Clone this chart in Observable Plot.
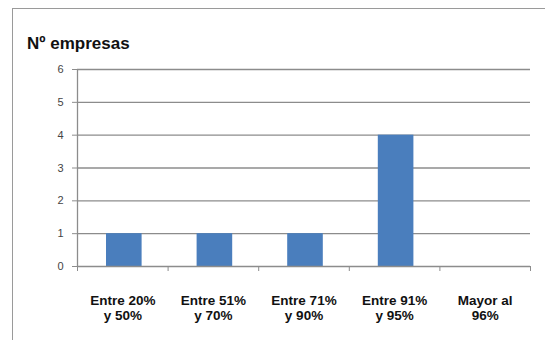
<!DOCTYPE html>
<html>
<head>
<meta charset="utf-8">
<script src="https://cdn.jsdelivr.net/npm/d3@7"></script>
<script src="https://cdn.jsdelivr.net/npm/@observablehq/plot@0.6"></script>
<style>
  html, body { margin: 0; padding: 0; background: #fff; }
  #wrap { position: relative; width: 545px; height: 340px; overflow: hidden; background: #fff; font-family: "Liberation Sans", Arial, sans-serif; }
  #border { position: absolute; left: 12px; top: 8px; width: 560px; height: 360px; border-left: 1.5px solid #9a9a9a; border-top: 1.5px solid #9a9a9a; box-sizing: border-box; z-index: 2; pointer-events: none; }
  #title { position: absolute; left: 27px; top: 35px; font-size: 17px; line-height: 17px; font-weight: bold; color: #111; white-space: nowrap; }
  #chart { position: absolute; left: 0; top: 55px; z-index: 1; }
</style>
</head>
<body>
<div id="wrap">
  <div id="border"></div>
  <div id="title">Nº empresas</div>
  <div id="chart"></div>
</div>
<script>
// Data
const categories = ["Entre 20%\ny 50%", "Entre 51%\ny 70%", "Entre 71%\ny 90%", "Entre 91%\ny 95%", "Mayor al\n96%"];
const values = [1, 1, 1, 4, 0];
const yTicks = [0, 1, 2, 3, 4, 5, 6];

const idx = d3.range(categories.length);
const data = idx.map(i => ({i, label: categories[i], value: values[i]}));
const gridColor = "#8c8c8c";

const chart = Plot.plot({
  width: 545,
  height: 285,
  marginLeft: 77,
  marginRight: 15,
  marginTop: 14,
  marginBottom: 74,
  style: {fontFamily: "'Liberation Sans', Arial, sans-serif", background: "transparent"},
  x: {domain: [0, categories.length], axis: null},
  y: {domain: [0, 6], axis: null},
  marks: [
    Plot.ruleY(yTicks.filter(d => d > 0), {stroke: gridColor, strokeWidth: 1.3}),
    Plot.rectY(data.filter(d => d.value > 0), {
      x1: d => d.i, x2: d => d.i + 1, y1: 0, y2: "value",
      fill: "#4a7ebd", insetLeft: 29, insetRight: 26
    }),
    Plot.ruleY([0], {stroke: gridColor, strokeWidth: 1.3}),
    Plot.ruleX([0], {stroke: gridColor, strokeWidth: 1.3}),
    Plot.axisY({ticks: yTicks, tickSize: 5, tickPadding: 9, fontSize: 11, stroke: gridColor, fill: "#444", label: null, tickFormat: d3.format("d")}),
    Plot.axisX({ticks: d3.range(categories.length + 1), tickSize: 5, tickFormat: () => "", label: null, stroke: gridColor}),
    Plot.text(data, {
      x: d => d.i + 0.5, y: 0, text: "label",
      lineAnchor: "top", dy: 27, lineHeight: 1.15,
      fontSize: 13.5, fontWeight: "bold", fill: "#111"
    })
  ]
});
document.getElementById("chart").appendChild(chart);
</script>
</body>
</html>
